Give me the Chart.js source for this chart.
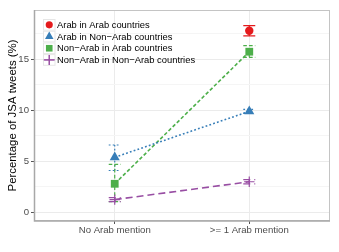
<!DOCTYPE html>
<html><head><meta charset="utf-8">
<script src="https://cdn.jsdelivr.net/npm/chart.js@4"></script>
<style>html,body{margin:0;padding:0;background:#fff}#wrap{width:339px;height:252px}</style>
</head><body><div id="wrap"><canvas id="c" width="339" height="252"></canvas></div>
<script>
const categories = ['No Arab mention', '>= 1 Arab mention'];
const seriesNames = ['Arab in Arab countries', 'Arab in Non\u2212Arab countries', 'Non\u2212Arab in Arab countries', 'Non\u2212Arab in Non\u2212Arab countries'];
const arabInArab = [null, 17.8];
const arabInArabLow = [null, 17.3];
const arabInArabHigh = [null, 18.3];
const arabInNonArab = [5.4, 9.9];
const arabInNonArabLow = [4.1, 9.7];
const arabInNonArabHigh = [6.6, 10.1];
const nonArabInArab = [2.8, 15.75];
const nonArabInArabLow = [1.05, 15.2];
const nonArabInArabHigh = [4.7, 16.35];
const nonArabInNonArab = [1.25, 3.0];
const nonArabInNonArabLow = [1.05, 2.8];
const nonArabInNonArabHigh = [1.45, 3.2];
const yTicks = [0, 5, 10, 15];
const yMinor = [2.5, 7.5, 12.5, 17.5];

const FONT = '"Liberation Sans", Arial, sans-serif';
function pts(vals){ return vals.map((v,i)=>({x:i+1,y:v})); }
const styles = [
  {color:'#E41A1C', point:'circle', r:4.2, dash:[]},
  {color:'#377EB8', point:'triangle', r:5.8, dash:[1.8,2.2]},
  {color:'#4DAF4A', point:'rect', r:5.5, dash:[3.6,2.2]},
  {color:'#984EA3', point:'cross', r:5.2, dash:[7,4]}
];
const values = [arabInArab, arabInNonArab, nonArabInArab, nonArabInNonArab];
const lows = [arabInArabLow, arabInNonArabLow, nonArabInArabLow, nonArabInNonArabLow];
const highs = [arabInArabHigh, arabInNonArabHigh, nonArabInArabHigh, nonArabInNonArabHigh];

const datasets = values.map((v,k)=>({
  label: seriesNames[k],
  data: pts(v),
  borderColor: styles[k].color,
  backgroundColor: styles[k].color,
  pointStyle: styles[k].point,
  pointRadius: styles[k].r,
  pointBorderWidth: k===3?1.2:0,
  pointBorderColor: styles[k].color,
  borderWidth: 1.6,
  borderDash: styles[k].dash,
  showLine: true,
  spanGaps: false,
  errLow: lows[k],
  errHigh: highs[k]
}));

const errorBars = {
  id:'errorBars',
  beforeDatasetsDraw(chart){
    const ctx = chart.ctx, xs = chart.scales.x, ys = chart.scales.y;
    chart.data.datasets.forEach((ds,k)=>{
      ds.errLow.forEach((lo,i)=>{
        const hi = ds.errHigh[i];
        if(lo==null||hi==null) return;
        const x = xs.getPixelForValue(i+1), y1 = ys.getPixelForValue(lo), y2 = ys.getPixelForValue(hi);
        ctx.save();
        ctx.strokeStyle = ds.borderColor; ctx.lineWidth = 1.2;
        ctx.setLineDash(styles[k].dash);
        ctx.beginPath();
        ctx.moveTo(x,y1); ctx.lineTo(x,y2);
        ctx.moveTo(x-6,y1); ctx.lineTo(x+6,y1);
        ctx.moveTo(x-6,y2); ctx.lineTo(x+6,y2);
        ctx.stroke();
        ctx.restore();
      });
    });
  }
};

const panel = {
  id:'panel',
  afterDraw(chart){
    const ctx = chart.ctx, a = chart.chartArea;
    ctx.save();
    ctx.strokeStyle = '#C4C4C4'; ctx.lineWidth = 1;
    ctx.strokeRect(a.left+0.5, a.top+0.5, a.right-a.left-1, a.bottom-a.top-1);
    ctx.strokeStyle = '#A8A8A8'; ctx.lineWidth = 1.5;
    ctx.beginPath(); ctx.moveTo(a.left+0.5,a.top); ctx.lineTo(a.left+0.5,a.bottom); ctx.lineTo(a.right,a.bottom); ctx.stroke();
    // legend
    const x0 = a.left + 9, y0 = a.top + 9, kh = 11.7, kw = 12.5;
    ctx.font = '9.4px ' + FONT; ctx.textBaseline = 'middle'; ctx.textAlign = 'left';
    chart.data.datasets.forEach((ds,k)=>{
      const ky = y0 + k*kh;
      ctx.fillStyle = '#FFFFFF'; ctx.fillRect(x0, ky, kw, kh);
      ctx.strokeStyle = '#E6E6E6'; ctx.lineWidth = 1; ctx.strokeRect(x0+0.5, ky+0.5, kw-1, kh-1);
      const cx = x0 + kw/2, cy = ky + kh/2;
      ctx.fillStyle = ds.borderColor; ctx.strokeStyle = ds.borderColor;
      Chart.helpers.drawPoint(ctx, {pointStyle: ds.pointStyle, radius: k===3?5:ds.pointRadius*0.85, borderWidth: k===3?1.2:0, rotation:0}, cx, cy);
      if(k===3){ ctx.lineWidth = 1.2; ctx.beginPath(); ctx.moveTo(cx-5.5,cy); ctx.lineTo(cx+5.5,cy); ctx.moveTo(cx,cy-5); ctx.lineTo(cx,cy+5); ctx.stroke(); }
      ctx.fillStyle = '#000';
      ctx.fillText(ds.label, x0 + kw + 1.5, cy + 0.5);
    });
    ctx.restore();
  }
};

new Chart(document.getElementById('c'), {
  type:'scatter',
  data:{datasets},
  plugins:[errorBars, panel],
  options:{
    responsive:false, animation:false,
    layout:{padding:{top:10,right:9,left:0,bottom:0}},
    plugins:{legend:{display:false}, tooltip:{enabled:false}},
    scales:{
      x:{
        type:'linear', min:0.4, max:2.6,
        afterBuildTicks(s){ s.ticks = categories.map((c,i)=>({value:i+1})); },
        afterFit(s){ s.height = 31; },
        ticks:{callback:(v)=>categories[v-1]||'', font:{family:FONT,size:9.6}, color:'#4D4D4D', padding:1, maxRotation:0, autoSkip:false},
        grid:{color:'#EBEBEB', lineWidth:1, tickLength:3, tickColor:'#555'},
        border:{display:false}
      },
      y:{
        type:'linear', min:-0.85, max:19.84,
        afterBuildTicks(s){ s.ticks = yTicks.concat(yMinor).sort((a,b)=>a-b).map(v=>({value:v})); },
        afterFit(s){ s.width = 34; },
        ticks:{callback:(v)=>yTicks.includes(v)?String(v):'', font:{family:FONT,size:9.6}, color:'#4D4D4D', padding:2, autoSkip:false},
        grid:{color:(c)=>yTicks.includes(c.tick&&c.tick.value)?'#EBEBEB':'#F5F5F5', lineWidth:1, tickLength:3,
              tickColor:(c)=>yTicks.includes(c.tick&&c.tick.value)?'#555':'rgba(0,0,0,0)'},
        border:{display:false},
        title:{display:true, text:'Percentage of JSA tweets (%)', font:{family:FONT,size:11.4}, color:'#000', padding:{top:6,bottom:0}}
      }
    }
  }
});
</script></body></html>
